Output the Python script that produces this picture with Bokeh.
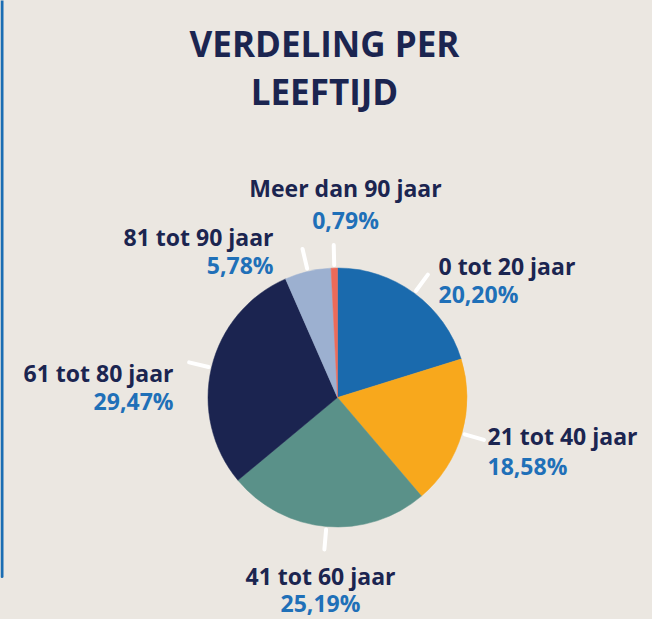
import math
from bokeh.plotting import figure
from bokeh.models import Range1d, ColumnDataSource
from bokeh.core.properties import value
from bokeh.embed import file_html
from bokeh.resources import INLINE

# ---- data ----
categories = ["0 tot 20 jaar", "21 tot 40 jaar", "41 tot 60 jaar",
              "61 tot 80 jaar", "81 tot 90 jaar", "Meer dan 90 jaar"]
shares = [20.20, 18.58, 25.19, 29.47, 5.78, 0.79]
share_labels = ["20,20%", "18,58%", "25,19%", "29,47%", "5,78%", "0,79%"]
colors = ["#1a6aad", "#f8a81c", "#5a9189", "#1b2450", "#9cb0d0", "#ec6a59"]

title_lines = ["VERDELING PER", "LEEFTIJD"]

W, H = 652, 619
BG = "#ebe7e1"
NAVY = "#1b2550"
BLUE = "#1f70b8"
FONT = "Open Sans"

p = figure(width=W, height=H, output_backend="svg", toolbar_location=None,
           x_range=Range1d(0, W), y_range=Range1d(0, H), min_border=0,
           background_fill_color=BG, border_fill_color=BG)
p.axis.visible = False
p.grid.visible = False
p.outline_line_color = None

def Y(y):
    return H - y

# left border
p.line([1.5, 1.5], [Y(0), Y(576)], line_color="#1a6db3", line_width=3, line_cap="round")

# pie
cx, cy, r = 337, Y(397), 129.5
total = sum(shares)
starts, ends, mids = [], [], []
cum = 0.0
for s in shares:
    a0 = math.pi / 2 - 2 * math.pi * cum / total
    cum += s
    a1 = math.pi / 2 - 2 * math.pi * cum / total
    starts.append(a0)
    ends.append(a1)
    mids.append((a0 + a1) / 2)

src = ColumnDataSource(dict(start=starts, end=ends, color=colors))
p.wedge(x=cx, y=cy, radius=r, start_angle="start", end_angle="end",
        direction="clock", fill_color="color", line_color="color", line_width=0.5,
        source=src)

# leader lines
gap, length = 3, 20
xs, ys = [], []
for m in mids:
    xs.append([cx + (r + gap) * math.cos(m), cx + (r + gap + length) * math.cos(m)])
    ys.append([cy + (r + gap) * math.sin(m), cy + (r + gap + length) * math.sin(m)])
p.multi_line(xs, ys, line_color="white", line_width=4, line_cap="round")

# labels: (x, baseline y of name, baseline y of pct, align)
label_pos = [
    (438, 265, 293, "left"),
    (487, 435, 465, "left"),
    (320, 575, 602, "center"),
    (173, 372, 400, "right"),
    (273, 236, 264, "right"),
    (345, 187, 219, "center"),
]
for (x, yn, yp, al), name, pct in zip(label_pos, categories, share_labels):
    p.text([x], [Y(yn)], text=[name], text_font=value(FONT), text_font_style="bold",
           text_font_size="23px", text_color=NAVY, text_align=al,
           text_baseline="alphabetic")
    p.text([x], [Y(yp)], text=[pct], text_font=value(FONT), text_font_style="bold",
           text_font_size="23px", text_color=BLUE, text_align=al,
           text_baseline="alphabetic")

# title
for t, yb in zip(title_lines, [43, 91]):
    p.text([324], [Y(yb)], text=[t], text_font=value(FONT), text_font_style="bold",
           text_font_size="35px", text_color=NAVY, text_align="center",
           text_baseline="alphabetic")

html = file_html(p, INLINE)
html = html.replace("<head>", "<head><style>html,body{margin:0;padding:0;background:%s;overflow:hidden;}</style>" % BG, 1)
open("out.html", "w").write(html)
